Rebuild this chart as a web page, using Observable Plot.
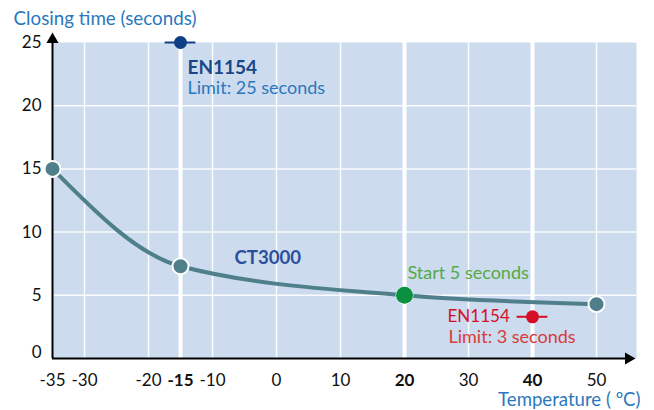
<!DOCTYPE html>
<html><head><meta charset="utf-8">
<script src="https://cdn.jsdelivr.net/npm/d3@7"></script>
<script src="https://cdn.jsdelivr.net/npm/@observablehq/plot@0.6"></script>
<style>body{margin:0;background:#fff;font-family:Lato,sans-serif}</style>
</head><body><div id="chart"></div>
<script>
// CT3000 closing time curve
const ctTemps = [-35, -15, 20, 50];
const ctTimes = [15, 7.3, 5, 4.3];
// Start point
const startTemps = [20];
const startTimes = [5];
// EN1154 limits
const limitNames = ["EN1154", "EN1154"];
const limitTemps = [-15, 40];
const limitTimes = [25, 3.3];
const limitTexts = ["Limit: 25 seconds", "Limit: 3 seconds"];
// ticks
const xTicksRegular = [-35, -30, -20, -10, 0, 10, 30, 50];
const xTicksBold = [-15, 20, 40];
const yTicks = [0, 5, 10, 15, 20, 25];
const thinGridX = [-30, -20, -10, 0, 10, 30, 50];
const thickGridX = [20, 40];
const gridY = [5, 10, 15, 20];

const ct = ctTemps.map((t, i) => ({temp: t, time: ctTimes[i]}));
const start = startTemps.map((t, i) => ({temp: t, time: startTimes[i], label: "Start 5 seconds"}));
const limits = limitTemps.map((t, i) => ({name: limitNames[i], temp: t, time: limitTimes[i], text: limitTexts[i]}));
const topLimit = [limits[0]];
const lowLimit = [limits[1]];

const chart = Plot.plot({
  width: 654, height: 410,
  marginLeft: 52, marginRight: 18, marginTop: 42, marginBottom: 52,
  x: {domain: [-35, 56.25], axis: null},
  y: {domain: [0, 25], axis: null},
  style: {fontFamily: "Lato, sans-serif", background: "white", overflow: "visible"},
  marks: [
    Plot.frame({fill: "#ccdbed", stroke: "none"}),
    Plot.ruleY(gridY, {stroke: "white", strokeWidth: 1.5, strokeOpacity: 0.9}),
    Plot.ruleX(thinGridX, {stroke: "white", strokeWidth: 1.5, strokeOpacity: 0.9}),
    Plot.ruleX(thickGridX, {stroke: "white", strokeWidth: 4}),
    Plot.ruleX(topLimit, {x: "temp", y1: 0, y2: "time", stroke: "white", strokeWidth: 4}),
    // axes with arrows
    Plot.ruleX([-35], {y1: 0, y2: 25.3, stroke: "black", strokeWidth: 2}),
    Plot.ruleY([0], {x1: -35, x2: 55, stroke: "black", strokeWidth: 2}),
    Plot.dot([{x: -35, y: 25}], {x: "x", y: "y", symbol: "triangle", r: 4.5, fill: "black", stroke: "none", dy: -3}),
    Plot.dot([{x: 55, y: 0}], {x: "x", y: "y", symbol: "triangle", r: 4.5, fill: "black", stroke: "none", rotate: 90}),
    // tick labels
    Plot.text(xTicksRegular, {x: d => d, frameAnchor: "bottom", dy: 22, lineAnchor: "middle", fontSize: 17, fill: "#111", text: d => String(d)}),
    Plot.text(xTicksBold, {x: d => d, frameAnchor: "bottom", dy: 22, lineAnchor: "middle", fontSize: 17, fontWeight: "bold", fill: "#111", text: d => String(d)}),
    Plot.text(yTicks.filter(d => d > 0), {y: d => d, frameAnchor: "left", dx: -11, textAnchor: "end", lineAnchor: "middle", fontSize: 17, fill: "#111", text: d => String(d)}),
    Plot.text([0], {y: d => d, frameAnchor: "left", dx: -11, dy: -6, textAnchor: "end", lineAnchor: "middle", fontSize: 17, fill: "#111", text: d => String(d)}),
    // axis titles
    Plot.text(["Closing time (seconds)"], {frameAnchor: "top-left", dx: -39, dy: -24, textAnchor: "start", lineAnchor: "middle", fontSize: 18.8, fill: "#2a78bd", text: d => d}),
    Plot.text(["Temperature ( ºC)"], {frameAnchor: "bottom-right", dx: 4, dy: 42, textAnchor: "end", lineAnchor: "middle", fontSize: 18.6, fill: "#2a78bd", text: d => d}),
    // CT3000 curve
    Plot.line(ct, {x: "temp", y: "time", curve: "monotone-x", stroke: "#4e7f8b", strokeWidth: 4}),
    Plot.dot(ct, {x: "temp", y: "time", r: 8, fill: "#4e7f8b", stroke: "white", strokeWidth: 2}),
    Plot.text(ct.slice(1, 2), {x: "temp", y: "time", dx: 54, dy: -8, text: () => "CT3000", textAnchor: "start", lineAnchor: "middle", fontSize: 18.6, fontWeight: "bold", fill: "#2b4f9e"}),
    // start point
    Plot.dot(start, {x: "temp", y: "time", r: 8.5, fill: "#0a9040", stroke: "none"}),
    Plot.text(start, {x: "temp", y: "time", dx: 3, dy: -22, text: "label", textAnchor: "start", lineAnchor: "middle", fontSize: 18, fill: "#54aa48"}),
    // EN1154 limits
    Plot.ruleY(topLimit, {y: "time", x1: d => d.temp - 2.4, x2: d => d.temp + 2.4, stroke: "#0d3f87", strokeWidth: 2}),
    Plot.dot(topLimit, {x: "temp", y: "time", r: 6.5, fill: "#0d3f87", stroke: "none"}),
    Plot.text(topLimit, {x: "temp", y: "time", dx: 7, dy: 25, text: "name", textAnchor: "start", lineAnchor: "middle", fontSize: 19, fontWeight: "bold", fill: "#1a4689"}),
    Plot.text(topLimit, {x: "temp", y: "time", dx: 7, dy: 46, text: "text", textAnchor: "start", lineAnchor: "middle", fontSize: 18, fill: "#2a78bd"}),
    Plot.ruleY(lowLimit, {y: "time", x1: d => d.temp - 2.4, x2: d => d.temp + 2.4, stroke: "#d50f25", strokeWidth: 2}),
    Plot.dot(lowLimit, {x: "temp", y: "time", r: 6.5, fill: "#d50f25", stroke: "none"}),
    Plot.text(lowLimit, {x: "temp", y: "time", dx: -85, dy: 0, text: "name", textAnchor: "start", lineAnchor: "middle", fontSize: 17, fill: "#d50f25"}),
    Plot.text(lowLimit, {x: "temp", y: "time", dx: -84, dy: 20, text: "text", textAnchor: "start", lineAnchor: "middle", fontSize: 18, fill: "#d83a3a"})
  ]
});
document.getElementById("chart").appendChild(chart);
</script>
</body></html>
